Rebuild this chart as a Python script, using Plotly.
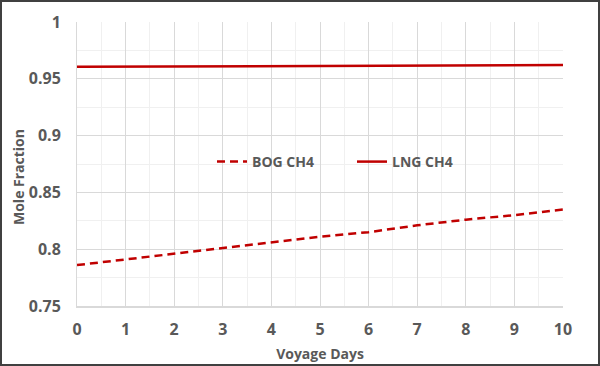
import plotly.graph_objects as go

days = [0, 1, 2, 3, 4, 5, 6, 7, 8, 9, 10]
bog_ch4 = [0.786, 0.791, 0.796, 0.801, 0.806, 0.811, 0.815, 0.821, 0.826, 0.830, 0.835]
lng_ch4 = [0.9605, 0.9607, 0.9608, 0.961, 0.9611, 0.9613, 0.9614, 0.9616, 0.9618, 0.962, 0.9622]

red = "#c00000"
gray = "#595959"
font = "Open Sans"

L, R, T, B = 77, 37, 22, 60
W, H = 600 - L - R, 366 - T - B

fig = go.Figure()
fig.add_trace(go.Scatter(x=days, y=bog_ch4, mode="lines", name="<b>BOG CH4</b>",
                         line=dict(color=red, width=2.5, dash="8px,5px")))
fig.add_trace(go.Scatter(x=days, y=lng_ch4, mode="lines", name="<b>LNG CH4</b>",
                         line=dict(color=red, width=2.5)))

fig.update_layout(
    width=600, height=366,
    margin=dict(l=L, r=R, t=T, b=B, autoexpand=False),
    paper_bgcolor="white", plot_bgcolor="white",
    font=dict(family=font, color=gray, size=14),
    legend=dict(orientation="h", x=(212 - L) / W, y=(306 - 162) / H,
                xanchor="left", yanchor="middle",
                bgcolor="rgba(0,0,0,0)", font=dict(size=14, color=gray),
                entrywidth=95, entrywidthmode="pixels"),
    xaxis=dict(range=[0, 10], dtick=1, tick0=0, showgrid=True, gridcolor="#d9d9d9",
               gridwidth=1, showline=True, linecolor="#d9d9d9", linewidth=2,
               ticks="", zeroline=False, automargin=False, ticklabelstandoff=8,
               minor=dict(dtick=0.5, showgrid=True, gridcolor="#f0f0f0", gridwidth=1),
               tickfont=dict(size=16, color=gray),
               tickprefix="<b>", ticksuffix="</b>",
               title=dict(text="<b>Voyage Days</b>", font=dict(size=14, color=gray), standoff=10)),
    yaxis=dict(range=[0.75, 1.0], dtick=0.05, tick0=0.75, showgrid=True, gridcolor="#d9d9d9",
               gridwidth=1, showline=True, linecolor="#d9d9d9", linewidth=1,
               ticks="", zeroline=False, automargin=False, ticklabelstandoff=12,
               minor=dict(dtick=0.025, showgrid=True, gridcolor="#f0f0f0", gridwidth=1),
               tickfont=dict(size=16, color=gray), tickformat="~g",
               tickprefix="<b>", ticksuffix="</b>"),
    annotations=[dict(text="<b>Mole Fraction</b>", textangle=-90, showarrow=False,
                      xref="paper", yref="paper", x=(18 - L) / W, y=(306 - 177) / H,
                      xanchor="center", yanchor="middle",
                      font=dict(size=14, color=gray))],
    shapes=[dict(type="rect", xref="paper", yref="paper",
                 x0=(-L + 1) / W, x1=1 + (R - 1) / W,
                 y0=(-B + 1) / H, y1=1 + (T - 1) / H,
                 line=dict(color="#404040", width=2), layer="above")],
)

fig.write_html("out.html", config={"displayModeBar": False},
               post_script="document.body.style.margin='0';document.body.style.overflow='hidden';")
